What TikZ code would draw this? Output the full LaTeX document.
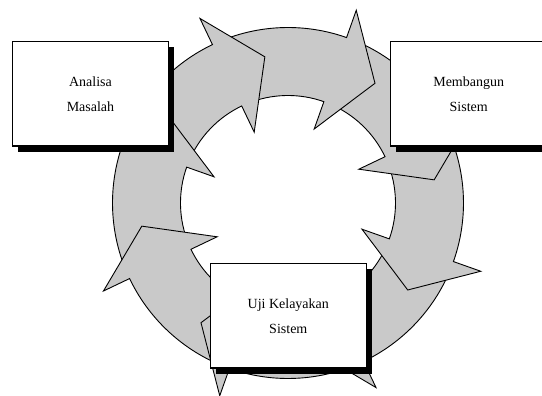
\documentclass[tikz,border=0pt]{standalone}
\usepackage{fontspec}
\setmainfont{Liberation Serif}
\usetikzlibrary{shadows}

\begin{document}
\begin{tikzpicture}[x=1pt,y=1pt,line join=miter,
    ring arrow/.style={draw=black,fill=black!21,line width=0.9pt},
    stage node/.style={rectangle,draw,fill=white,line width=1.1pt,minimum width=156pt,minimum height=104.5pt,align=center,font=\fontsize{14}{25}\selectfont,drop shadow={fill=black,opacity=1,shadow xshift=5.5pt,shadow yshift=-5.5pt}}]
  \useasboundingbox (-288,-193) rectangle (254,203);
  % cycle arrows, each head lies over the next tail
  \foreach \k in {3,2,1,0,7,6,5,4}{
    \pgfmathsetmacro{\base}{90-19.5-45*\k}
    \pgfmathsetmacro{\tail}{\base+42}
    \pgfmathsetmacro{\tip}{\base-16.5}
    \draw[ring arrow] (\tail:175.5) arc[start angle=\tail,end angle=\base,radius=175.5]
      -- (\base:204.5) -- (\tip:148) -- (\base:78.5) -- (\base:107.5)
      arc[start angle=\base,end angle=\tail,radius=107.5] -- cycle;
  }
  \node[stage node] (analisa) at (-197.5,109.2) {Analisa\\Masalah};
  \node[stage node] (membangun) at (180.7,109.2) {Membangun\\Sistem};
  \node[stage node] (uji) at (0.3,-112.8) {Uji Kelayakan\\Sistem};
\end{tikzpicture}
\end{document}
